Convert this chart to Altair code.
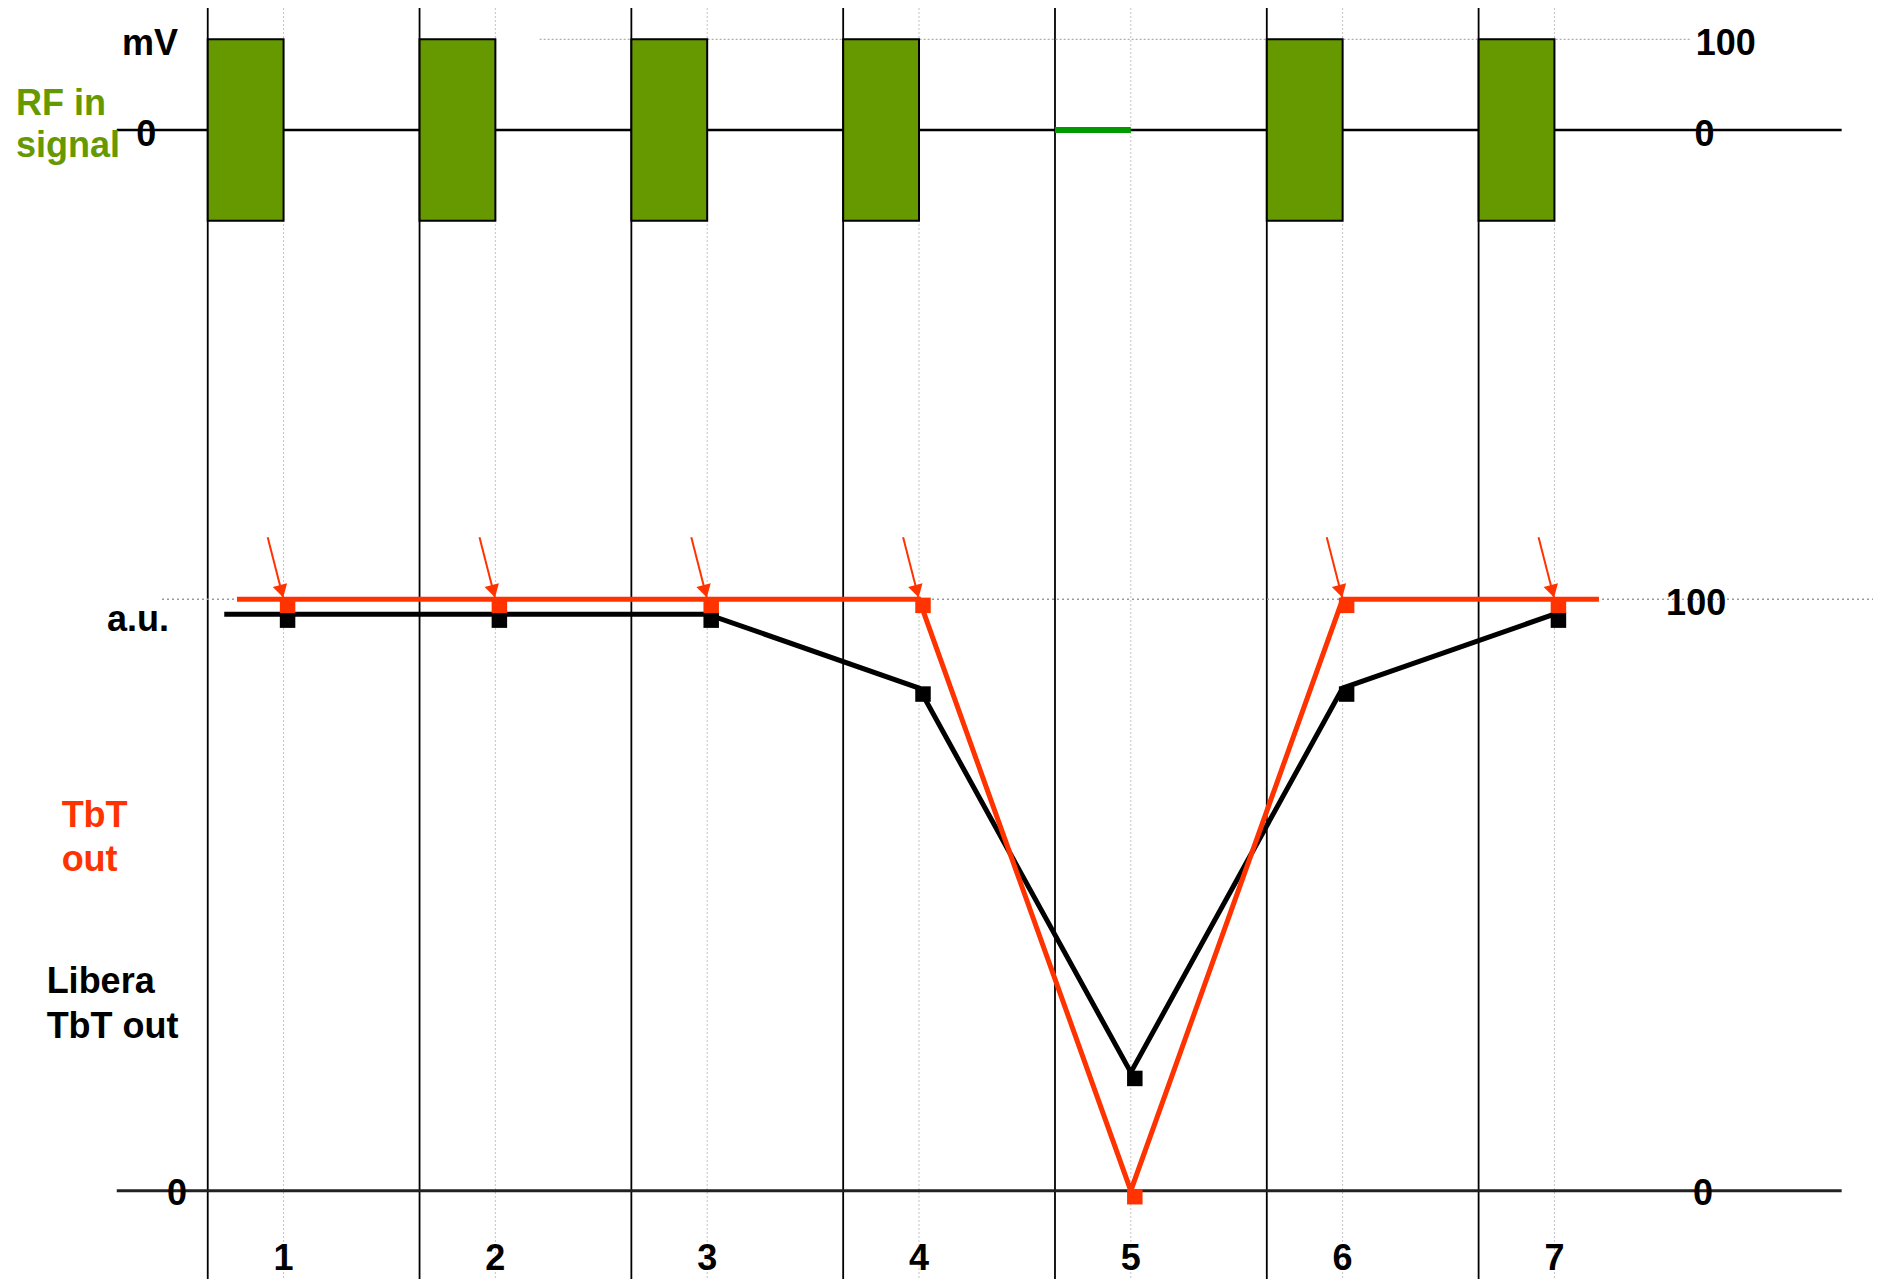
import altair as alt
import pandas as pd

# ---------------- data ----------------
bunches = [1, 2, 3, 4, 5, 6, 7]
bunch_labels = ["1", "2", "3", "4", "5", "6", "7"]
rf_present = [1, 1, 1, 1, 0, 1, 1]          # RF pulse present in bunch
rf_amplitude_mv = [100, 100, 100, 100, 0, 100, 100]
tbt_out = [100, 100, 100, 100, 0, 100, 100]          # ideal TbT out (a.u.)
libera_tbt_out = [97.5, 97.5, 97.5, 85, 20, 85, 97.5]  # Libera TbT out (a.u.)

tbt_lead_in, tbt_lead_out = 0.78, 7.21
libera_lead_in = 0.72

pulse_width = 0.358          # width of RF pulse (in bunch units)

# ---------------- scales ----------------
W, H = 1865, 1271
X_DOMAIN = [-0.301, 8.504]
MV_DOMAIN = [-1266.8, 134.5]
AU_DOMAIN = [-14.93, 200.0]

xs = alt.Scale(domain=X_DOMAIN, nice=False, zero=False)
mvs = alt.Scale(domain=MV_DOMAIN, nice=False, zero=False)
aus = alt.Scale(domain=AU_DOMAIN, nice=False, zero=False)

RED = "#ff3300"
GREEN = "#669900"
FONT = "Liberation Sans"
FS = 36

def X(f):
    return alt.X(f, type="quantitative", scale=xs, axis=None)

def X2(f):
    return alt.X2(f)

def YM(f):
    return alt.Y(f, type="quantitative", scale=mvs, axis=None)

def YA(f):
    return alt.Y(f, type="quantitative", scale=aus, axis=None)

df = pd.DataFrame({
    "bunch": bunches,
    "label": bunch_labels,
    "rf_on": rf_present,
    "rf_hi": rf_amplitude_mv,
    "tbt": tbt_out,
    "libera": libera_tbt_out,
})
df["left"] = df["bunch"] - pulse_width
df["rf_lo"] = -df["rf_hi"]
df["zero"] = 0
df["arrow_x0"] = df["bunch"] - 0.075
df["arrow_y0"] = df["tbt"] + 10.5

df_rf = df[df.rf_on == 1]
df_norf = df[df.rf_on == 0]

red_line = pd.DataFrame({
    "x": [tbt_lead_in] + bunches + [tbt_lead_out],
    "y": [tbt_out[0]] + tbt_out + [tbt_out[-1]],
})
red_line["i"] = range(len(red_line))
black_line = pd.DataFrame({
    "x": [libera_lead_in] + bunches,
    "y": [libera_tbt_out[0]] + libera_tbt_out,
})
black_line["i"] = range(len(black_line))

# horizontal reference lines
mv_zero = pd.DataFrame({"x": [0.2125], "x2": [8.356], "y": [0]})
mv_ref = pd.DataFrame({"x": [2.209], "x2": [7.641], "y": [100]})
au_zero = pd.DataFrame({"x": [0.2125], "x2": [8.356], "y": [0]})
au_ref = pd.DataFrame({"x": [0.426], "x2": [X_DOMAIN[1]], "y": [100]})

# annotations (data units)
mv_text_c = pd.DataFrame({
    "text": ["mV", "0", "100", "0"],
    "x": [0.369, 0.352, 7.809, 7.709],
    "y": [82.7, -17.5, 82.7, -17.5],
    "color": ["black"] * 4,
})
mv_text_l = pd.DataFrame({
    "text": ["RF in", "signal"],
    "x": [-0.2636, -0.2636],
    "y": [16.5, -29.4],
    "color": [GREEN, GREEN],
})
au_text_c = pd.DataFrame({
    "text": ["a.u.", "0", "100", "0"],
    "x": [0.3125, 0.497, 7.669, 7.702],
    "y": [94.7, -2.4, 97.3, -2.4],
    "color": ["black"] * 4,
})
au_text_l = pd.DataFrame({
    "text": ["TbT", "out", "Libera", "TbT out"],
    "x": [-0.0478, -0.0478, -0.1186, -0.1186],
    "y": [61.55, 54.1, 33.5, 25.8],
    "color": [RED, RED, "black", "black"],
})

def text_layer(d, yfun, align):
    return alt.Chart(d).mark_text(
        font=FONT, fontWeight="bold", fontSize=FS, align=align, baseline="alphabetic"
    ).encode(x=X("x"), y=yfun("y"), text="text:N", color=alt.Color("color:N", scale=None))

# ---------------- upper (mV) layers ----------------
rects = alt.Chart(df_rf).mark_rect(fill=GREEN, stroke="black", strokeWidth=2).encode(
    x=X("left"), x2=X2("bunch"), y=YM("rf_hi"), y2=alt.Y2("rf_lo"))
no_rf = alt.Chart(df_norf).mark_rule(color="#009900", strokeWidth=6).encode(
    x=X("left"), x2=X2("bunch"), y=YM("zero"))
mv_zero_l = alt.Chart(mv_zero).mark_rule(color="black", strokeWidth=2.5).encode(
    x=X("x"), x2=X2("x2"), y=YM("y"))
mv_ref_l = alt.Chart(mv_ref).mark_rule(color="#b0b0b0", strokeWidth=1.2, strokeDash=[2, 2]).encode(
    x=X("x"), x2=X2("x2"), y=YM("y"))

mv_group = alt.layer(mv_ref_l, mv_zero_l, no_rf, rects,
                     text_layer(mv_text_c, YM, "center"),
                     text_layer(mv_text_l, YM, "left"))

# ---------------- vertical grid ----------------
vdot = alt.Chart(df).mark_rule(color="#c4c4c4", strokeWidth=1, strokeDash=[2, 2]).encode(x=X("bunch"))
vsolid = alt.Chart(df).mark_rule(color="black", strokeWidth=1.8).encode(x=X("left"))
back_group = alt.layer(vdot, vsolid)

# ---------------- lower (a.u.) layers ----------------
au_ref_l = alt.Chart(au_ref).mark_rule(color="#999999", strokeWidth=1.5, strokeDash=[2, 3]).encode(
    x=X("x"), x2=X2("x2"), y=YA("y"))
au_zero_l = alt.Chart(au_zero).mark_rule(color="#222222", strokeWidth=3).encode(
    x=X("x"), x2=X2("x2"), y=YA("y"))
black_l = alt.Chart(black_line).mark_line(color="black", strokeWidth=5).encode(
    x=X("x"), y=YA("y"), order="i:Q")
red_l = alt.Chart(red_line).mark_line(color=RED, strokeWidth=5).encode(
    x=X("x"), y=YA("y"), order="i:Q")
black_m = alt.Chart(df).mark_square(color="black", size=240, opacity=1, xOffset=4, yOffset=6).encode(
    x=X("bunch"), y=YA("libera"))
red_m = alt.Chart(df).mark_square(color=RED, size=240, opacity=1, xOffset=4, yOffset=6).encode(
    x=X("bunch"), y=YA("tbt"))
arrow_shaft = alt.Chart(df_rf).mark_rule(color=RED, strokeWidth=2).encode(
    x=X("arrow_x0"), x2=X2("bunch"), y=YA("arrow_y0"), y2=alt.Y2("tbt"))
arrow_head = alt.Chart(df_rf).mark_point(
    shape="triangle-down", filled=True, color=RED, size=220, angle=345, opacity=1,
    yOffset=-8, xOffset=-2).encode(x=X("bunch"), y=YA("tbt"))
bunch_text = alt.Chart(df).transform_calculate(yy="-13.4").mark_text(
    font=FONT, fontWeight="bold", fontSize=FS, align="center", baseline="alphabetic", color="black"
).encode(x=X("bunch"), y=YA("yy"), text="label:N")

au_group = alt.layer(au_ref_l, au_zero_l, black_l, red_l, black_m, red_m,
                     arrow_shaft, arrow_head,
                     text_layer(au_text_c, YA, "center"),
                     text_layer(au_text_l, YA, "left"),
                     bunch_text)

chart = alt.layer(back_group, mv_group, au_group).resolve_scale(y="independent").properties(
    width=W, height=H, padding=0, autosize=alt.AutoSizeParams(type="none"),
    background="white"
).configure_view(stroke=None)

chart.save("out.html", embed_options={"renderer": "svg", "actions": False})
